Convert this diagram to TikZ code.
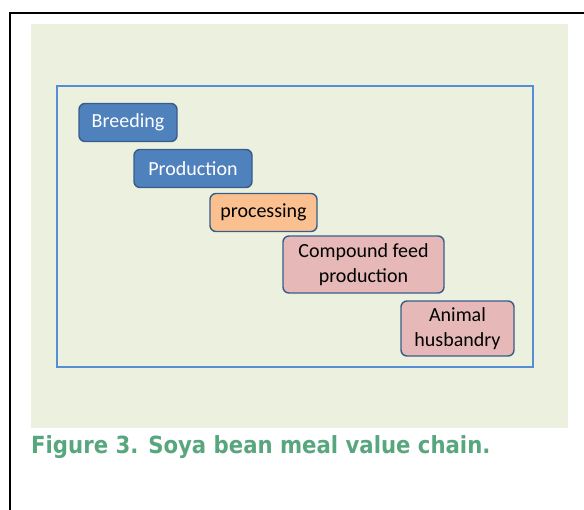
\documentclass[tikz,border=0pt]{standalone}
\usepackage{fontspec}
\setmainfont{Carlito}
\newfontfamily\captionfont{DejaVu Sans Condensed}
\usepackage{xcolor}
\definecolor{panel area}{HTML}{EBF1DE}
\definecolor{chain edge}{HTML}{558ED5}
\definecolor{box edge}{HTML}{385D8A}
\definecolor{blue area}{HTML}{4F81BD}
\definecolor{orange area}{HTML}{FAC090}
\definecolor{pink area}{HTML}{E6B9B8}
\definecolor{caption green}{RGB}{88,166,126}
\tikzset{stage/.style={rounded corners=6pt, draw=box edge, line width=1.4pt,
    font=\fontsize{20}{25}\selectfont, align=center, inner sep=0pt},
    bluestage/.style={stage, fill=blue area, text=white},
    orangestage/.style={stage, fill=orange area},
    pinkstage/.style={stage, fill=pink area}}

\begin{document}
\begin{tikzpicture}[x=1pt,y=-1pt]
    \useasboundingbox (0,0) rectangle (584,509);
    % frame and panel
    \draw[line width=2pt] (10,520) -- (10,13) -- (600,13);
    \fill[panel area] (31,24) rectangle (568,428);
    \draw[chain edge, line width=2pt] (57,86) rectangle (533,367);
    % the chain
    \node[bluestage, minimum width=98pt, minimum height=38pt] (breeding) at (128,122.5) {Breeding};
    \node[bluestage, minimum width=118pt, minimum height=38pt] (production) at (193,168.5) {Production};
    \node[orangestage, minimum width=107pt, minimum height=38pt] (processing) at (263.5,212.5) {processing};
    \node[pinkstage, minimum width=161pt, minimum height=57pt] (feed) at (363.5,264.5) {Compound feed\\production};
    \node[pinkstage, minimum width=113pt, minimum height=55pt] (husbandry) at (457.5,328.5) {Animal\\husbandry};
    % caption
    \node[anchor=base west, inner sep=0pt, text=caption green,
        font=\captionfont\bfseries\fontsize{23.6}{28}\selectfont] (caption) at (31,453)
        {Figure 3. Soya bean meal value chain.};
\end{tikzpicture}
\end{document}
